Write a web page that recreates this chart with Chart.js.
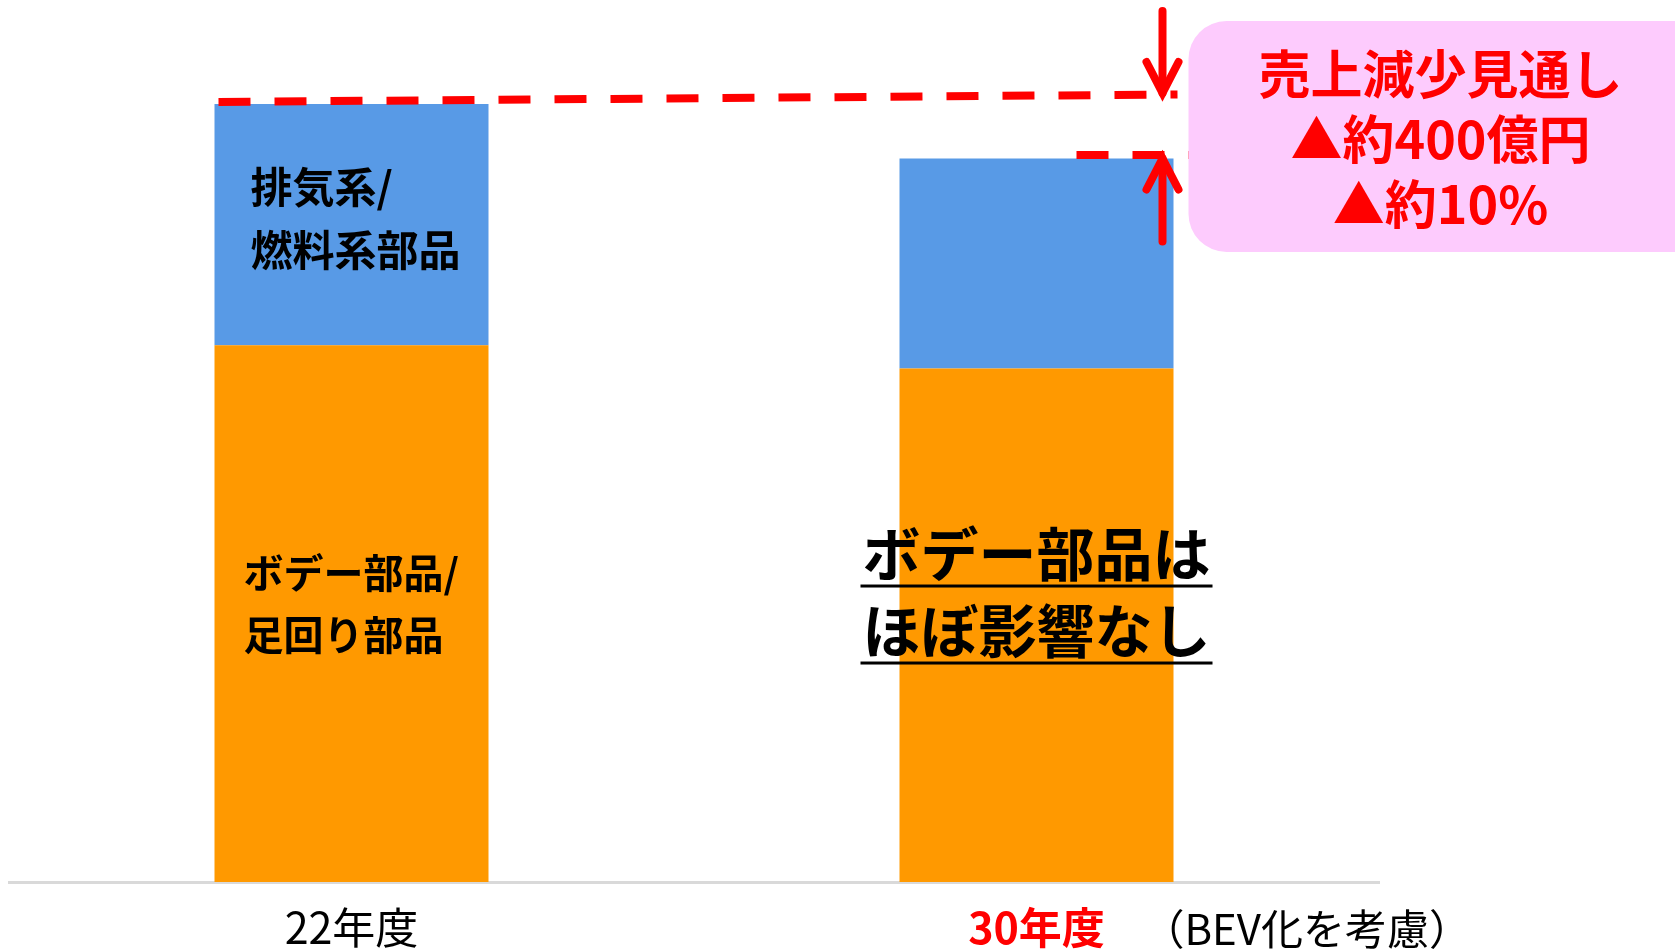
<!DOCTYPE html>
<html lang="ja">
<head>
<meta charset="utf-8">
<title>部品売上見通し</title>
<script src="https://cdn.jsdelivr.net/npm/chart.js@4.4.1/dist/chart.umd.min.js"></script>
<style>
  html, body { margin: 0; padding: 0; background: #fff; }
  canvas { display: block; }
</style>
</head>
<body>
<canvas id="chart" width="1675" height="950"></canvas>
<script>
"use strict";

const FONT = '"Noto Sans CJK JP", "Noto Sans", sans-serif';

const categories = ["22年度", "30年度"];
const bodyParts = [2760, 2640];      // ボデー部品/足回り部品
const exhaustParts = [1240, 1080];   // 排気系/燃料系部品
const tickColors = ["#000000", "#ff0000"];
const tickWeights = ["normal", "bold"];

const exhaustLabel = ["排気系/", "燃料系部品"];
const bodyLabel = ["ボデー部品/", "足回り部品"];
const noteLabel = ["ボデー部品は", "ほぼ影響なし"];
const boxLines = ["売上減少見通し", "▲約400億円", "▲約10%"];
const bevNote = "（BEV化を考慮）";

const COLORS = {
  body: "#ff9900",
  exhaust: "#589ae6",
  red: "#ff0000",
  pink: "#fdcbfd",
  axis: "#d9d9d9",
};

function arrow(ctx, x, tipY, tailY) {
  const dir = tailY > tipY ? 1 : -1;
  ctx.beginPath();
  ctx.moveTo(x, tailY);
  ctx.lineTo(x, tipY);
  ctx.stroke();
  ctx.beginPath();
  ctx.moveTo(x - 16, tipY + dir * 31);
  ctx.lineTo(x, tipY);
  ctx.lineTo(x + 16, tipY + dir * 31);
  ctx.stroke();
}

function roundBox(ctx, x, y, w, h, r) {
  ctx.beginPath();
  ctx.moveTo(x + r, y);
  ctx.lineTo(x + w - r, y);
  ctx.arcTo(x + w, y, x + w, y + r, r);
  ctx.lineTo(x + w, y + h - r);
  ctx.arcTo(x + w, y + h, x + w - r, y + h, r);
  ctx.lineTo(x + r, y + h);
  ctx.arcTo(x, y + h, x, y + h - r, r);
  ctx.lineTo(x, y + r);
  ctx.arcTo(x, y, x + r, y, r);
  ctx.closePath();
  ctx.fill();
}

const annotate = {
  id: "annotate",
  afterDatasetsDraw(chart) {
    const ctx = chart.ctx;
    const lower = chart.getDatasetMeta(0).data;
    const upper = chart.getDatasetMeta(1).data;
    const aLeft = upper[0].x - upper[0].width / 2;
    const bRight = upper[1].x + upper[1].width / 2;
    ctx.save();

    // labels inside bars
    ctx.fillStyle = "#000";
    ctx.textBaseline = "middle";
    ctx.textAlign = "left";
    ctx.font = `bold 42px ${FONT}`;
    exhaustLabel.forEach((t, i) => ctx.fillText(t, aLeft + 36, upper[0].y + 83 + i * 63));
    ctx.font = `bold 40px ${FONT}`;
    bodyLabel.forEach((t, i) => ctx.fillText(t, aLeft + 29, lower[0].y + 228 + i * 62));

    ctx.textAlign = "center";
    ctx.font = `bold 58px ${FONT}`;
    noteLabel.forEach((t, i) => {
      const cy = lower[1].y + 185 + i * 77;
      ctx.fillText(t, upper[1].x, cy);
      const w = ctx.measureText(t).width;
      ctx.fillRect(upper[1].x - w / 2 - 2, cy + 31, w + 4, 3);
    });

    // dashed level lines
    ctx.strokeStyle = COLORS.red;
    ctx.lineWidth = 8;
    ctx.setLineDash([32, 24]);
    ctx.beginPath();
    ctx.moveTo(aLeft + 4, upper[0].y - 2);
    ctx.lineTo(bRight + 4, upper[0].y - 9.5);
    ctx.stroke();
    ctx.beginPath();
    ctx.moveTo(bRight - 97, upper[1].y - 3.5);
    ctx.lineTo(bRight + 18, upper[1].y - 3.5);
    ctx.stroke();
    ctx.setLineDash([]);

    // arrows
    ctx.lineCap = "round";
    ctx.lineJoin = "miter";
    arrow(ctx, bRight - 11, upper[0].y - 11, 11);
    arrow(ctx, bRight - 11, upper[1].y, upper[1].y + 83);

    // callout box
    const boxX = bRight + 15;
    ctx.fillStyle = COLORS.pink;
    roundBox(ctx, boxX, 21, 540, 231, 38);
    ctx.fillStyle = COLORS.red;
    ctx.font = `bold 52px ${FONT}`;
    boxLines.forEach((t, i) => ctx.fillText(t, boxX + 252, 74 + i * 65));

    // note next to the second tick label
    ctx.fillStyle = "#000";
    ctx.textAlign = "left";
    ctx.font = `normal 42px ${FONT}`;
    ctx.fillText(bevNote, upper[1].x + 106, chart.chartArea.bottom + 47);
    ctx.restore();
  },
};

new Chart(document.getElementById("chart"), {
  type: "bar",
  data: {
    labels: categories,
    datasets: [
      { label: "ボデー部品/足回り部品", data: bodyParts, backgroundColor: COLORS.body },
      { label: "排気系/燃料系部品", data: exhaustParts, backgroundColor: COLORS.exhaust },
    ],
  },
  options: {
    responsive: false,
    animation: false,
    devicePixelRatio: 1,
    layout: { padding: { top: 104, left: 9, right: 296, bottom: -23 } },
    datasets: { bar: { categoryPercentage: 1, barPercentage: 0.4, borderWidth: 0 } },
    plugins: { legend: { display: false }, tooltip: { enabled: false } },
    scales: {
      x: {
        stacked: true,
        grid: { display: false, drawTicks: false },
        border: { display: true, color: COLORS.axis, width: 3 },
        ticks: {
          padding: 24,
          color: ctx => tickColors[ctx.index],
          font: ctx => ({ family: FONT, size: 43, weight: tickWeights[ctx.index], lineHeight: 1 }),
        },
      },
      y: {
        stacked: true,
        display: false,
        min: 0,
        max: 4000,
      },
    },
  },
  plugins: [annotate],
});
</script>
</body>
</html>
